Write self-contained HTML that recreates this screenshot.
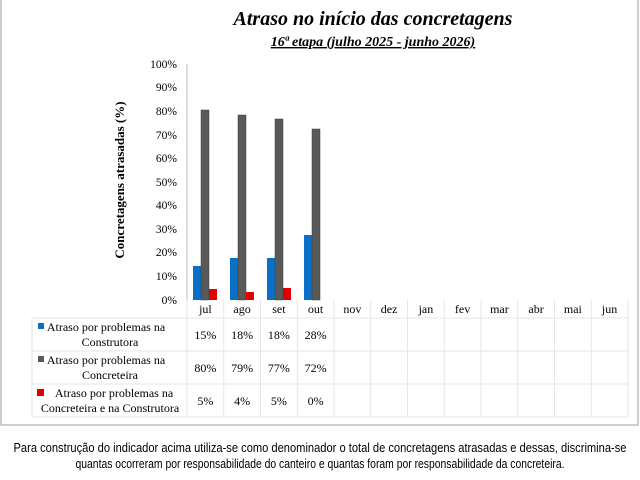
<!DOCTYPE html>
<html><head><meta charset="utf-8"><style>
html,body{margin:0;padding:0;background:#fff;}
svg{display:block;}
.s{font-family:"Liberation Serif",serif;font-size:11.5px;fill:#000;}
.t{font-family:"Liberation Serif",serif;font-size:12px;fill:#000;}
</style></head><body>
<svg width="640" height="480" viewBox="0 0 640 480" xmlns="http://www.w3.org/2000/svg">
<rect x="1" y="-2" width="637" height="427" fill="#fff" stroke="#bdbdbd" stroke-width="1.5"/>
<text x="373" y="25" text-anchor="middle" font-family="Liberation Serif,serif" font-size="20" font-weight="bold" font-style="italic">Atraso no início das concretagens</text>
<text x="373" y="46" text-anchor="middle" font-family="Liberation Serif,serif" font-size="14" font-weight="bold" font-style="italic" text-decoration="underline">16ª etapa (julho 2025 - junho 2026)</text>
<g class="s" text-anchor="end">
<text x="177" y="68">100%</text><text x="177" y="91">90%</text><text x="177" y="115">80%</text>
<text x="177" y="139">70%</text><text x="177" y="162">60%</text><text x="177" y="186">50%</text>
<text x="177" y="209">40%</text><text x="177" y="233">30%</text><text x="177" y="256">20%</text>
<text x="177" y="280">10%</text><text x="177" y="304">0%</text>
</g>
<text transform="translate(124,180) rotate(-90)" text-anchor="middle" font-family="Liberation Serif,serif" font-size="13" font-weight="bold">Concretagens atrasadas (%)</text>
<line x1="187" y1="64" x2="187" y2="300" stroke="#bfbfbf" stroke-width="1"/>
<g>
<rect x="193" y="266" width="8" height="34" fill="#0a6fc6"/>
<rect x="201" y="110" width="8" height="190" fill="#595959" stroke="#404040" stroke-width="0.5"/>
<rect x="209" y="289" width="8" height="11" fill="#e00000"/>
<rect x="230" y="258" width="8" height="42" fill="#0a6fc6"/>
<rect x="238" y="115" width="8" height="185" fill="#595959" stroke="#404040" stroke-width="0.5"/>
<rect x="246" y="292" width="8" height="8" fill="#e00000"/>
<rect x="267" y="258" width="8" height="42" fill="#0a6fc6"/>
<rect x="275" y="119" width="8" height="181" fill="#595959" stroke="#404040" stroke-width="0.5"/>
<rect x="283" y="288" width="8" height="12" fill="#e00000"/>
<rect x="304" y="235" width="8" height="65" fill="#0a6fc6"/>
<rect x="312" y="129" width="8" height="171" fill="#595959" stroke="#404040" stroke-width="0.5"/>
</g>
<g stroke="#e6e6e6" stroke-width="1" fill="none">
<line x1="32" y1="318" x2="628" y2="318"/>
<line x1="32" y1="351" x2="628" y2="351"/>
<line x1="32" y1="384" x2="628" y2="384"/>
<line x1="32" y1="417" x2="628" y2="417"/>
<line x1="32" y1="318" x2="32" y2="417"/>
<line x1="187" y1="300" x2="187" y2="417"/>
<line x1="223.75" y1="300" x2="223.75" y2="417"/>
<line x1="260.5" y1="300" x2="260.5" y2="417"/>
<line x1="297.25" y1="300" x2="297.25" y2="417"/>
<line x1="334" y1="300" x2="334" y2="417"/>
<line x1="370.75" y1="300" x2="370.75" y2="417"/>
<line x1="407.5" y1="300" x2="407.5" y2="417"/>
<line x1="444.25" y1="300" x2="444.25" y2="417"/>
<line x1="481" y1="300" x2="481" y2="417"/>
<line x1="517.75" y1="300" x2="517.75" y2="417"/>
<line x1="554.5" y1="300" x2="554.5" y2="417"/>
<line x1="591.25" y1="300" x2="591.25" y2="417"/>
<line x1="628" y1="300" x2="628" y2="417"/>
</g>
<g class="t" text-anchor="middle">
<text x="205.4" y="313">jul</text><text x="242.1" y="313">ago</text><text x="278.9" y="313">set</text>
<text x="315.6" y="313">out</text><text x="352.4" y="313">nov</text><text x="389.1" y="313">dez</text>
<text x="425.9" y="313">jan</text><text x="462.6" y="313">fev</text><text x="499.4" y="313">mar</text>
<text x="536.1" y="313">abr</text><text x="572.9" y="313">mai</text><text x="609.6" y="313">jun</text>
<text x="205.4" y="339">15%</text><text x="242.1" y="339">18%</text><text x="278.9" y="339">18%</text><text x="315.6" y="339">28%</text>
<text x="205.4" y="372">80%</text><text x="242.1" y="372">79%</text><text x="278.9" y="372">77%</text><text x="315.6" y="372">72%</text>
<text x="205.4" y="405">5%</text><text x="242.1" y="405">4%</text><text x="278.9" y="405">5%</text><text x="315.6" y="405">0%</text>
<text x="106" y="331">Atraso por problemas na</text><text x="110" y="346">Construtora</text>
<text x="106" y="364">Atraso por problemas na</text><text x="110" y="379">Concreteira</text>
<text x="114" y="397">Atraso por problemas na</text><text x="110" y="412">Concreteira e na Construtora</text>
</g>
<rect x="38" y="323" width="6" height="6" fill="#0a6fc6"/>
<rect x="38" y="356" width="6" height="6" fill="#595959"/>
<rect x="37" y="389" width="7" height="7" fill="#e00000"/>
<g font-family="Liberation Sans,sans-serif" font-size="12.5" text-anchor="middle" fill="#000">
<text x="320" y="452" textLength="613" lengthAdjust="spacingAndGlyphs">Para construção do indicador acima utiliza-se como denominador o total de concretagens atrasadas e dessas, discrimina-se</text>
<text x="320" y="468" textLength="489" lengthAdjust="spacingAndGlyphs">quantas ocorreram por responsabilidade do canteiro e quantas foram por responsabilidade da concreteira.</text>
</g>
</svg>
</body></html>
